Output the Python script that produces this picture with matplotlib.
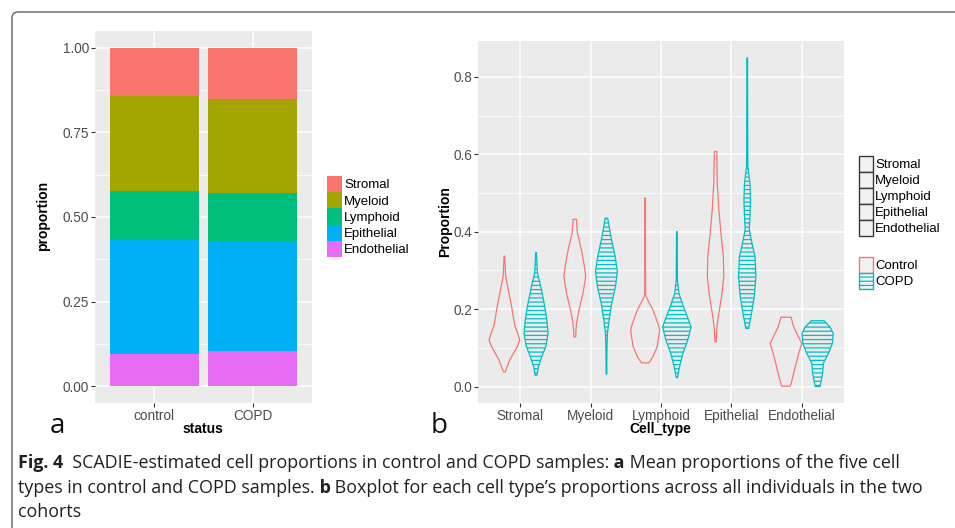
import matplotlib

matplotlib.use("Agg")

import matplotlib.pyplot as plt
from matplotlib.patches import FancyBboxPatch, Patch
from matplotlib.text import Annotation
from matplotlib.transforms import IdentityTransform

# ---- data -------------------------------------------------------------
status = ["control", "COPD"]
cell_types = ["Stromal", "Myeloid", "Lymphoid", "Epithelial", "Endothelial"]
type_colors = ["#F8766D", "#A3A500", "#00BF7D", "#00B0F6", "#E76BF3"]

# mean proportions, same order as cell_types
control_props = [0.141, 0.282, 0.144, 0.338, 0.095]
copd_props = [0.150, 0.277, 0.143, 0.326, 0.103]

# violin outlines: proportion levels and scaled half widths
ctrl_levels = [
    [0.038, 0.068, 0.094, 0.107, 0.120, 0.137, 0.154, 0.180, 0.206, 0.249, 0.284, 0.337],
    [0.128, 0.145, 0.163, 0.198, 0.241, 0.284, 0.310, 0.353, 0.396, 0.420, 0.432],
    [0.061, 0.077, 0.103, 0.146, 0.163, 0.198, 0.223, 0.236, 0.487],
    [0.115, 0.150, 0.180, 0.232, 0.284, 0.336, 0.387, 0.456, 0.526, 0.607],
    [0.001, 0.016, 0.051, 0.085, 0.111, 0.128, 0.154, 0.179],
]
ctrl_widths = [
    [0.06, 0.33, 0.69, 0.85, 0.97, 0.85, 0.68, 0.56, 0.46, 0.25, 0.08, 0.02],
    [0.06, 0.07, 0.11, 0.27, 0.52, 0.69, 0.61, 0.42, 0.17, 0.12, 0.11],
    [0.23, 0.49, 0.76, 0.92, 0.80, 0.49, 0.17, 0.03, 0.02],
    [0.04, 0.08, 0.17, 0.38, 0.52, 0.49, 0.36, 0.21, 0.11, 0.08],
    [0.27, 0.38, 0.59, 0.80, 1.00, 0.80, 0.49, 0.32],
]
copd_levels = [
    [0.029, 0.051, 0.077, 0.103, 0.137, 0.172, 0.206, 0.258, 0.293, 0.346],
    [0.032, 0.094, 0.137, 0.172, 0.215, 0.258, 0.297, 0.336, 0.379, 0.413, 0.435],
    [0.023, 0.051, 0.085, 0.120, 0.154, 0.172, 0.206, 0.241, 0.275, 0.400],
    [0.150, 0.189, 0.232, 0.284, 0.336, 0.370, 0.405, 0.439, 0.482, 0.526, 0.569, 0.849],
    [0.000, 0.008, 0.034, 0.060, 0.085, 0.111, 0.137, 0.154, 0.170],
]
copd_widths = [
    [0.06, 0.15, 0.36, 0.61, 0.76, 0.68, 0.55, 0.30, 0.09, 0.02],
    [0.02, 0.03, 0.06, 0.17, 0.33, 0.57, 0.69, 0.55, 0.32, 0.17, 0.08],
    [0.04, 0.17, 0.38, 0.69, 0.90, 0.74, 0.42, 0.13, 0.04, 0.02],
    [0.09, 0.27, 0.44, 0.55, 0.49, 0.30, 0.13, 0.17, 0.21, 0.17, 0.04, 0.02],
    [0.15, 0.19, 0.32, 0.36, 0.68, 0.93, 0.99, 0.78, 0.40],
]
group_labels = ["Control", "COPD"]
group_colors = ["#F8766D", "#00BFC4"]

# ---- style ------------------------------------------------------------
W, H = 955, 528
GG_FONT = ["Liberation Sans", "DejaVu Sans"]
CAP_FONT = ["Open Sans", "DejaVu Sans"]
PANEL_BG = "#EBEBEB"
TICK_FS = 9.8
LEGEND_FS = 9.5
TITLE_FS = 10

plt.rcParams["font.family"] = GG_FONT
plt.rcParams["hatch.linewidth"] = 0.9

fig = plt.figure(figsize=(W / 100, H / 100), dpi=100)


def px_axes(left, top, right, bottom):
    return fig.add_axes([left / W, 1 - bottom / H, (right - left) / W, (bottom - top) / H])


def px_text(x, y, s, **kw):
    return fig.text(x / W, 1 - y / H, s, **kw)


def gg_style(ax, yticks, ylabels, yminor):
    ax.set_facecolor(PANEL_BG)
    for sp in ax.spines.values():
        sp.set_visible(False)
    ax.set_yticks(yticks)
    ax.set_yticklabels(ylabels)
    ax.set_yticks(yminor, minor=True)
    ax.grid(True, which="major", color="white", linewidth=1.1)
    ax.grid(True, which="minor", axis="y", color="white", linewidth=0.55)
    ax.tick_params(which="major", length=2.9, width=0.8, color="#333333",
                   labelcolor="#4D4D4D", labelsize=TICK_FS, pad=1.5)
    ax.tick_params(which="minor", length=0)
    ax.set_axisbelow(True)


def key_legend(ax, handles, labels, x, y, hlen, hheight):
    # ggplot-like legend: touching square keys, no frame, anchored in figure pixels
    return ax.legend(handles=handles, labels=labels, loc="upper left",
                     bbox_to_anchor=(x / W, 1 - y / H), bbox_transform=fig.transFigure,
                     frameon=False, borderpad=0, borderaxespad=0, fontsize=LEGEND_FS,
                     handlelength=hlen, handleheight=hheight, labelspacing=0,
                     handletextpad=0.15)


# ---- outer frame ------------------------------------------------------
frame = FancyBboxPatch((12, -30), 1000, H - 12 + 30, boxstyle="round,pad=0,rounding_size=6",
                       transform=IdentityTransform(), facecolor="none",
                       edgecolor="#5F5F5F", linewidth=1.0)
fig.add_artist(frame)

# ---- panel a: stacked bars -------------------------------------------
ax_a = px_axes(95, 31, 312, 403)
xa = list(range(1, len(status) + 1))
stack_order = ["Endothelial", "Epithelial", "Lymphoid", "Myeloid", "Stromal"]
bottoms = [0.0, 0.0]
for name in stack_order:
    i = cell_types.index(name)
    vals = [control_props[i], copd_props[i]]
    ax_a.bar(xa, vals, bottom=bottoms, width=0.9, color=type_colors[i], linewidth=0, zorder=2)
    bottoms = [b + v for b, v in zip(bottoms, vals)]

gg_style(ax_a, [0, 0.25, 0.5, 0.75, 1.0], ["0.00", "0.25", "0.50", "0.75", "1.00"],
         [0.125, 0.375, 0.625, 0.875])
ax_a.set_xticks(xa)
ax_a.set_xticklabels(status)
ax_a.set_xlim(0.4, 2.6)
ax_a.set_ylim(-0.05, 1.05)

key_legend(ax_a, [Patch(facecolor=c, edgecolor="none") for c in type_colors], cell_types,
           327, 176, 1.14, 1.51)

px_text(43, 216, "proportion", rotation=90, ha="center", va="center",
        fontsize=TITLE_FS, fontweight="bold")
px_text(203, 433, "status", ha="center", va="baseline", fontsize=TITLE_FS, fontweight="bold")
px_text(50, 433, "a", ha="left", va="baseline", fontsize=20, family=CAP_FONT, color="#111111")

# ---- panel b: violins -------------------------------------------------
ax_b = px_axes(478, 41, 844, 403)
half = 0.225
for i in range(len(cell_types)):
    for g, (levels, widths) in enumerate([(ctrl_levels[i], ctrl_widths[i]),
                                          (copd_levels[i], copd_widths[i])]):
        center = i + 1 + (-half if g == 0 else half)
        xs = [center - w * half for w in widths] + [center + w * half for w in widths[::-1]]
        ys = list(levels) + list(levels[::-1])
        ax_b.fill(xs, ys, facecolor="none", edgecolor=group_colors[g], linewidth=0.9,
                  joinstyle="round", hatch="----" if g == 1 else None, zorder=2)

gg_style(ax_b, [0, 0.2, 0.4, 0.6, 0.8], ["0.0", "0.2", "0.4", "0.6", "0.8"],
         [0.1, 0.3, 0.5, 0.7])
ax_b.set_xticks(range(1, len(cell_types) + 1))
ax_b.set_xticklabels(cell_types)
ax_b.set_xlim(0.4, 5.6)
ax_b.set_ylim(-0.0425, 0.8925)

key_bg = "#F2F2F2"
leg_b1 = key_legend(ax_b, [Patch(facecolor=key_bg, edgecolor="#3A3A3A", linewidth=1.0)
                           for _ in cell_types], cell_types, 859, 156, 1.06, 1.48)
ax_b.add_artist(leg_b1)
key_legend(ax_b, [Patch(facecolor=key_bg, edgecolor=group_colors[0], linewidth=1.0),
                  Patch(facecolor=key_bg, edgecolor=group_colors[1], linewidth=1.0,
                        hatch="----")],
           group_labels, 859, 257, 1.06, 1.48)

px_text(445, 222, "Proportion", rotation=90, ha="center", va="center",
        fontsize=TITLE_FS, fontweight="bold")
px_text(660, 433, "Cell_type", ha="center", va="baseline", fontsize=TITLE_FS, fontweight="bold")
px_text(431, 433, "b", ha="left", va="baseline", fontsize=20, family=CAP_FONT, color="#111111")

# ---- caption ----------------------------------------------------------
CAP_FS = 12.9
caption_lines = [
    (468, [("Fig. 4", True), ("  SCADIE-estimated cell proportions in control and COPD samples:", False),
           (" a", True), (" Mean proportions of the five cell", False)]),
    (493, [("types in control and COPD samples.", False), (" b", True),
           (" Boxplot for each cell type\u2019s proportions across all individuals in the two", False)]),
    (517, [("cohorts", False)]),
]
for y_base, pieces in caption_lines:
    prev = None
    for s, bold in pieces:
        kw = dict(fontsize=CAP_FS, family=CAP_FONT, color="#231F20", ha="left", va="baseline",
                  fontweight="bold" if bold else "normal")
        if prev is None:
            prev = px_text(18, y_base, s, **kw)
        else:
            ann = Annotation(s, xy=(1, 1 - y_base / H), xycoords=(prev, "figure fraction"), **kw)
            fig.add_artist(ann)
            prev = ann

fig.savefig("out.png", dpi=100)
